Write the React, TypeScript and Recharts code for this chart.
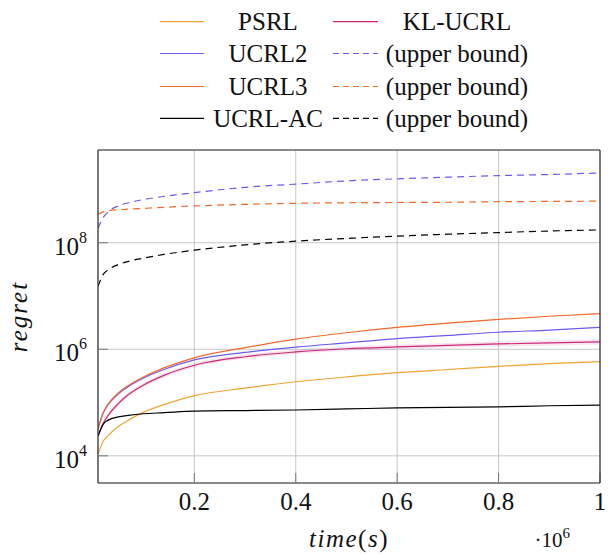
import { Area, CartesianGrid, ComposedChart, Line, XAxis, YAxis } from "recharts"

// time steps (x) and log10 of the regret for every curve
const times = [10000, 20000, 30000, 50000, 70000, 100000, 140000, 200000, 300000, 400000, 500000, 600000, 700000, 800000, 900000, 1000000]

const psrlExp = [4.03, 4.27, 4.38, 4.55, 4.67, 4.82, 4.96, 5.13, 5.27, 5.39, 5.48, 5.56, 5.62, 5.68, 5.73, 5.77]
const klExp = [4.37, 4.6, 4.76, 4.98, 5.15, 5.33, 5.51, 5.7, 5.86, 5.95, 6.01, 6.045, 6.075, 6.1, 6.12, 6.14]
const klLowExp = [4.34, 4.56, 4.72, 4.94, 5.11, 5.29, 5.47, 5.66, 5.82, 5.91, 5.97, 6.0, 6.03, 6.05, 6.07, 6.09]
const klHighExp = [4.4, 4.64, 4.8, 5.02, 5.19, 5.37, 5.55, 5.74, 5.9, 5.99, 6.05, 6.09, 6.12, 6.15, 6.17, 6.19]
const ucrl2Exp = [4.52, 4.8, 4.96, 5.16, 5.3, 5.46, 5.62, 5.8, 5.94, 6.04, 6.12, 6.2, 6.26, 6.32, 6.36, 6.41]
const ucrl2BoundExp = [8.27, 8.47, 8.58, 8.69, 8.75, 8.81, 8.87, 8.94, 9.04, 9.1, 9.16, 9.2, 9.23, 9.26, 9.28, 9.31]
const ucrl3Exp = [4.5, 4.8, 4.97, 5.18, 5.32, 5.48, 5.65, 5.84, 6.03, 6.19, 6.31, 6.41, 6.49, 6.56, 6.62, 6.67]
const ucrl3BoundExp = [8.53, 8.58, 8.6, 8.62, 8.63, 8.645, 8.665, 8.69, 8.72, 8.74, 8.75, 8.755, 8.76, 8.77, 8.775, 8.78]
const acExp = [4.37, 4.59, 4.67, 4.73, 4.76, 4.79, 4.81, 4.84, 4.85, 4.86, 4.88, 4.9, 4.91, 4.92, 4.94, 4.95]
const acBoundExp = [7.18, 7.4, 7.49, 7.59, 7.65, 7.71, 7.78, 7.86, 7.96, 8.03, 8.08, 8.125, 8.16, 8.19, 8.22, 8.24]

const xTicks = [200000, 400000, 600000, 800000, 1000000]
const yTicks = [1e4, 1e6, 1e8]
const yDomain = [3090, 5.5e9]

const C = {
  psrl: "#f0a535",
  kl: "#cc2a78",
  ucrl2: "#6b5cf0",
  ucrl3: "#f2692c",
  ac: "#000000",
}

const pow = (e: number) => Math.pow(10, e)

const data = times.map((t, i) => ({
  t,
  psrl: pow(psrlExp[i]),
  kl: pow(klExp[i]),
  klBand: [pow(klLowExp[i]), pow(klHighExp[i])],
  ucrl2: pow(ucrl2Exp[i]),
  ucrl2Bound: pow(ucrl2BoundExp[i]),
  ucrl3: pow(ucrl3Exp[i]),
  ucrl3Bound: pow(ucrl3BoundExp[i]),
  ac: pow(acExp[i]),
  acBound: pow(acBoundExp[i]),
}))

const FONT = "Liberation Serif, serif"
const DASH = "7 5"

const legendRows = [
  [["PSRL", C.psrl, false], ["KL-UCRL", C.kl, false]],
  [["UCRL2", C.ucrl2, false], ["(upper bound)", C.ucrl2, true]],
  [["UCRL3", C.ucrl3, false], ["(upper bound)", C.ucrl3, true]],
  [["UCRL-AC", C.ac, false], ["(upper bound)", C.ac, true]],
] as [string, string, boolean][][]

function LegendBox() {
  const rowY = [21.7, 53.5, 86.5, 118.3]
  const cols = [
    { x1: 160, x2: 204, tx: 268 },
    { x1: 333, x2: 378, tx: 457 },
  ]
  return (
    <svg width={608} height={140} style={{ position: "absolute", left: 0, top: 0, fontFamily: FONT }}>
      {legendRows.map((row, r) =>
        row.map(([label, color, dashed], c) => (
          <g key={`${r}-${c}`}>
            <line
              x1={cols[c].x1}
              x2={cols[c].x2}
              y1={rowY[r]}
              y2={rowY[r]}
              stroke={color}
              strokeWidth={1.2}
              strokeDasharray={dashed ? "6 4" : undefined}
            />
            <text x={cols[c].tx} y={rowY[r] + 8.5} textAnchor="middle" style={{ fontFamily: FONT }} fontSize={25} fill="#111">
              {label}
            </text>
          </g>
        ))
      )}
    </svg>
  )
}

function YTick({ x, y, payload }: any) {
  const exp = Math.round(Math.log10(payload.value))
  return (
    <text x={x} y={y + 12} textAnchor="end" style={{ fontFamily: FONT }} fontSize={25} fill="#111">
      10
      <tspan dy={-12} fontSize={16}>
        {exp}
      </tspan>
    </text>
  )
}

function XTick({ x, y, payload }: any) {
  return (
    <text x={x} y={y + 27} textAnchor="middle" style={{ fontFamily: FONT }} fontSize={25} fill="#111">
      {String(payload.value / 1e6)}
    </text>
  )
}

function XTitle({ viewBox }: any) {
  const cx = viewBox.x + viewBox.width / 2
  return (
    <g style={{ fontFamily: FONT }} fill="#111">
      <text x={cx} y={547} textAnchor="middle" fontSize={25} letterSpacing={1.5}>
        <tspan fontStyle="italic">time</tspan>(<tspan fontStyle="italic">s</tspan>)
      </text>
      <text x={570} y={547} textAnchor="end" fontSize={21}>
        ·10
        <tspan dy={-9} fontSize={15}>
          6
        </tspan>
      </text>
    </g>
  )
}

function YTitle({ viewBox }: any) {
  const cy = viewBox.y + viewBox.height / 2
  return (
    <text
      x={27}
      y={cy}
      transform={`rotate(-90, 27, ${cy})`}
      textAnchor="middle"
      style={{ fontFamily: FONT }}
      fontStyle="italic"
      fontSize={25}
      letterSpacing={2}
      fill="#111"
    >
      regret
    </text>
  )
}

export default function App() {
  const frame = { stroke: "#333", strokeWidth: 1.2 }
  const tickMark = { stroke: "#777", strokeWidth: 1 }
  return (
    <div style={{ position: "absolute", left: 0, top: 0, width: 608, height: 554, background: "#fff", fontFamily: FONT }}>
      <LegendBox />
      <ComposedChart
        width={608}
        height={554}
        data={data}
        margin={{ top: 149, right: 7, bottom: 0, left: 0 }}
      >
        <CartesianGrid stroke="#c6c6c6" strokeWidth={1} />
        <XAxis
          dataKey="t"
          type="number"
          domain={[10000, 1000000]}
          ticks={xTicks}
          interval={0}
          allowDataOverflow
          height={71}
          axisLine={frame}
          tickLine={tickMark}
          tickSize={-10}
          tickMargin={10}
          tick={<XTick />}
          label={<XTitle />}
        />
        <XAxis
          xAxisId="top"
          orientation="top"
          dataKey="t"
          type="number"
          domain={[10000, 1000000]}
          ticks={xTicks}
          interval={0}
          allowDataOverflow
          height={1}
          axisLine={frame}
          tickLine={tickMark}
          tickSize={-10}
          tick={false}
        />
        <YAxis
          type="number"
          scale="log"
          domain={yDomain}
          ticks={yTicks}
          interval={0}
          allowDataOverflow
          width={98}
          axisLine={frame}
          tickLine={tickMark}
          tickSize={-10}
          tickMargin={21}
          tick={<YTick />}
          label={<YTitle />}
        />
        <YAxis
          yAxisId="right"
          orientation="right"
          type="number"
          scale="log"
          domain={yDomain}
          ticks={yTicks}
          interval={0}
          allowDataOverflow
          width={1}
          axisLine={frame}
          tickLine={tickMark}
          tickSize={-10}
          tick={false}
        />
        <Area dataKey="klBand" type="monotone" stroke="none" fill={C.kl} fillOpacity={0.12} isAnimationActive={false} />
        <Line dataKey="psrl" type="monotone" stroke={C.psrl} strokeWidth={1.2} dot={false} isAnimationActive={false} />
        <Line dataKey="ucrl2" type="monotone" stroke={C.ucrl2} strokeWidth={1.2} dot={false} isAnimationActive={false} />
        <Line dataKey="kl" type="monotone" stroke={C.kl} strokeWidth={1.2} dot={false} isAnimationActive={false} />
        <Line dataKey="ucrl2Bound" type="monotone" stroke={C.ucrl2} strokeWidth={1.2} strokeDasharray={DASH} dot={false} isAnimationActive={false} />
        <Line dataKey="ucrl3" type="monotone" stroke={C.ucrl3} strokeWidth={1.2} dot={false} isAnimationActive={false} />
        <Line dataKey="ucrl3Bound" type="monotone" stroke={C.ucrl3} strokeWidth={1.2} strokeDasharray={DASH} dot={false} isAnimationActive={false} />
        <Line dataKey="ac" type="monotone" stroke={C.ac} strokeWidth={1.2} dot={false} isAnimationActive={false} />
        <Line dataKey="acBound" type="monotone" stroke={C.ac} strokeWidth={1.2} strokeDasharray={DASH} dot={false} isAnimationActive={false} />
      </ComposedChart>
    </div>
  )
}
